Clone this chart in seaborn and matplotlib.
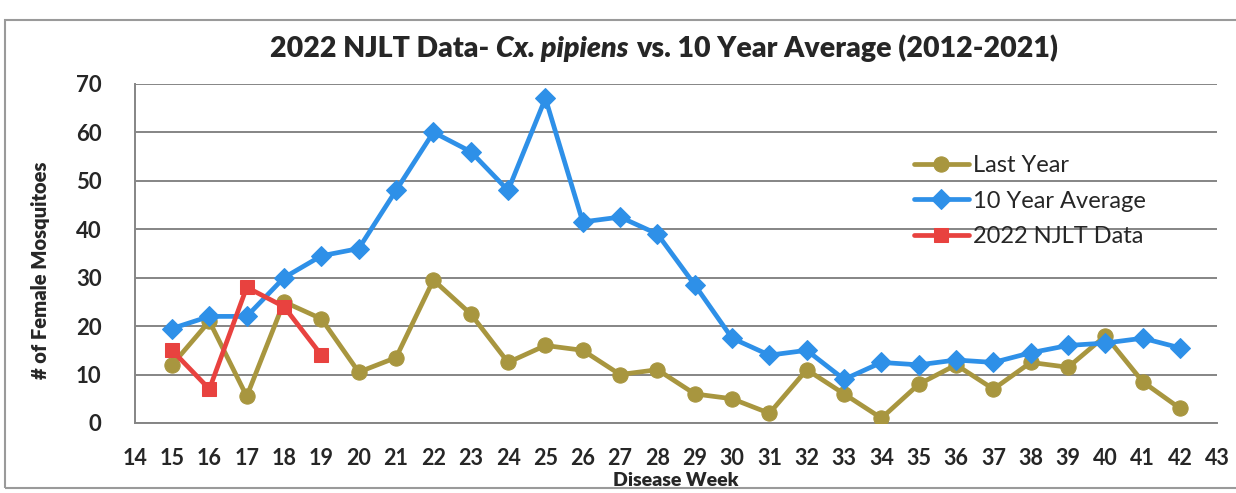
import pandas as pd
import seaborn as sns
import matplotlib.pyplot as plt
from matplotlib.patches import Rectangle

weeks = list(range(15, 43))
last_year = [12, 21, 5.5, 25, 21.5, 10.5, 13.5, 29.5, 22.5, 12.5, 16, 15, 10, 11,
             6, 5, 2, 11, 6, 1, 8, 12, 7, 12.5, 11.5, 18, 8.5, 3]
ten_year_avg = [19.5, 22, 22, 30, 34.5, 36, 48, 60, 56, 48, 67, 41.5, 42.5, 39,
                28.5, 17.5, 14, 15, 9, 12.5, 12, 13, 12.5, 14.5, 16, 16.5, 17.5, 15.5]
weeks_2022 = [15, 16, 17, 18, 19]
njlt_2022 = [15, 7, 28, 24, 14]

x_ticks = list(range(14, 44))
y_ticks = list(range(0, 80, 10))

sns.set_style('white')
plt.rcParams['font.family'] = ['Lato', 'DejaVu Sans']

fig = plt.figure(figsize=(12.36, 4.93), dpi=100)
ax = fig.add_axes([0.109, 0.142, 0.876, 0.688])

df_last = pd.DataFrame({'week': weeks, 'count': last_year})
df_avg = pd.DataFrame({'week': weeks, 'count': ten_year_avg})
df_new = pd.DataFrame({'week': weeks_2022, 'count': njlt_2022})

sns.lineplot(data=df_last, x='week', y='count', ax=ax, color='#A8963F', lw=3.4,
             marker='o', markersize=11, markeredgecolor='#A8963F', label='Last Year', zorder=3)
sns.lineplot(data=df_avg, x='week', y='count', ax=ax, color='#2E90E8', lw=3.4,
             marker='D', markersize=10, markeredgecolor='#2E90E8', label='10 Year Average', zorder=4)
sns.lineplot(data=df_new, x='week', y='count', ax=ax, color='#E8423F', lw=3.4,
             marker='s', markersize=10, markeredgecolor='#E8423F', label='2022 NJLT Data', zorder=5)

ax.set_xlim(14, 43)
ax.set_ylim(0, 70)
ax.set_xticks(x_ticks)
ax.set_yticks(y_ticks)
ax.tick_params(axis='x', length=0, pad=18, labelsize=15.5)
ax.tick_params(axis='y', length=0, pad=24, labelsize=16)
for lbl in ax.get_xticklabels():
    lbl.set_fontweight('bold')
for lbl in ax.get_yticklabels():
    lbl.set_fontweight('bold')

ax.yaxis.grid(True, color='#858585', lw=1.4)
ax.set_axisbelow(True)
for side in ['top', 'right']:
    ax.spines[side].set_visible(False)
for side in ['left', 'bottom']:
    ax.spines[side].set_color('#858585')
    ax.spines[side].set_linewidth(1.4)

ax.set_xlabel('Disease Week', fontsize=14, fontweight='heavy', labelpad=2)
ax.set_ylabel('# of Female Mosquitoes', fontsize=14.5, fontweight='heavy')
ax.yaxis.set_label_coords(-0.078, 0.45)

leg = ax.legend(loc='upper left', bbox_to_anchor=(0.732, 0.705), bbox_transform=fig.transFigure,
                frameon=False, fontsize=17, handlelength=2.3, handletextpad=0.2,
                labelspacing=0.62, borderaxespad=0)

# title with italic species name
size = 20.5
t1 = fig.text(0.2, 0.885, '2022 NJLT Data-', fontsize=size, fontweight='heavy', va='baseline')
t2 = ax.annotate('Cx. pipiens', xy=(1, 0), xycoords=t1, xytext=(5, 0), textcoords='offset points',
                 fontsize=size, fontweight='heavy', style='italic', va='bottom')
t3 = ax.annotate('vs. 10 Year Average (2012-2021)', xy=(1, 0), xycoords=t2, xytext=(5, 0),
                 textcoords='offset points', fontsize=size, fontweight='heavy', va='bottom')
fig.canvas.draw()
r = fig.canvas.get_renderer()
b1 = t1.get_window_extent(r)
b3 = t3.get_window_extent(r)
total = b3.x1 - b1.x0
center = 664
t1.set_x((center - total / 2) / fig.bbox.width)

fig.patches.append(Rectangle((5 / 1236, 5 / 493), 1.2, 468 / 493, transform=fig.transFigure,
                             fill=False, edgecolor='#9a9a9a', lw=1.5))

plt.savefig('out.png', dpi=100)
